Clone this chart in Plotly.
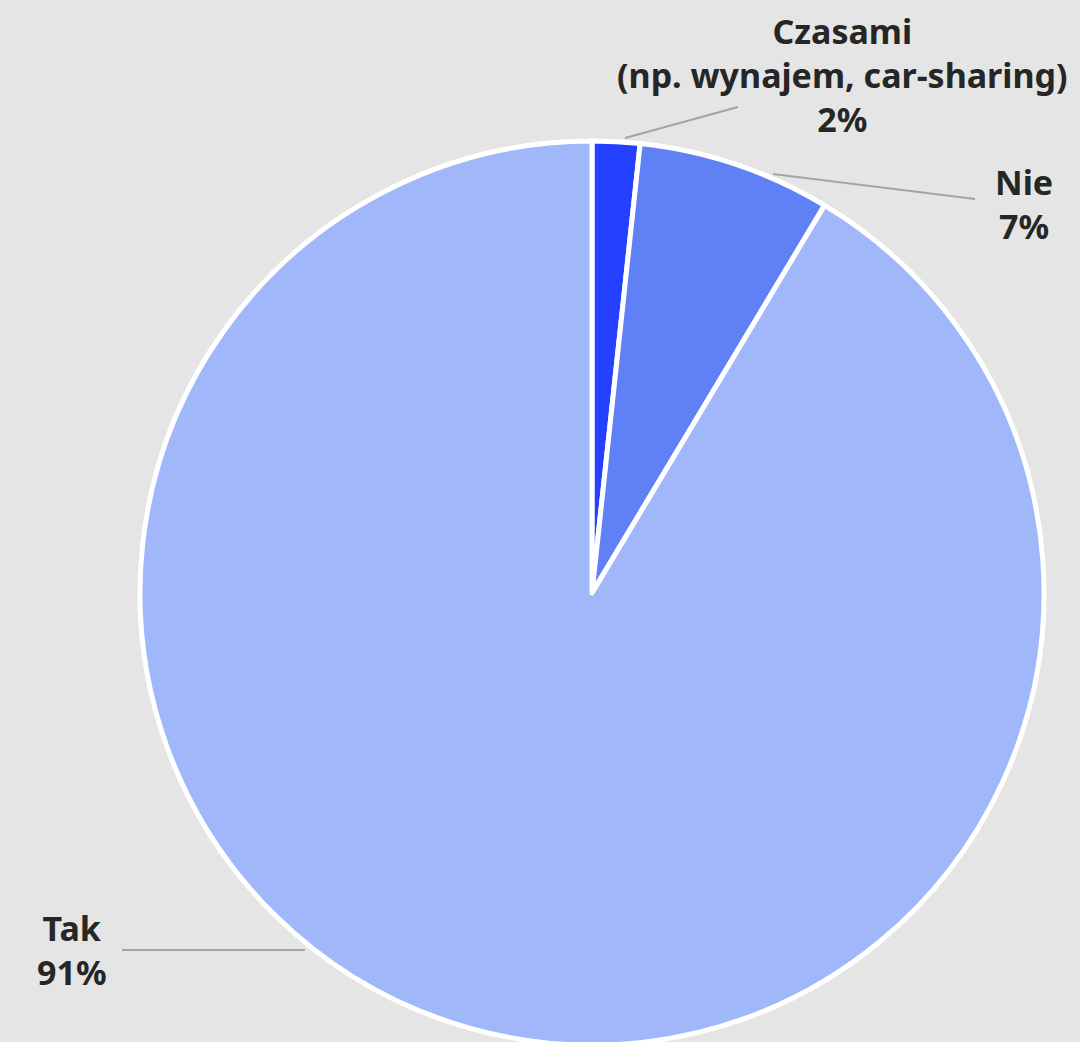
import plotly.graph_objects as go

# ---- data ----
categories = ["Czasami (np. wynajem, car-sharing)", "Nie", "Tak"]
label_lines = ["Czasami<br>(np. wynajem, car-sharing)", "Nie", "Tak"]
values = [1.7, 6.9, 91.4]
colors = ["#2540ff", "#6080f5", "#a0b8fa"]

W, H = 1080, 1046
BG = "#e5e5e5"
TEXT = "#262626"
LINE = "#a4a4a4"


def px(x):
    return x / W


def py(y):
    return 1 - y / H


total = sum(values)
pct_text = [f"{round(v / total * 100)}%" for v in values]

fig = go.Figure(
    go.Pie(
        labels=categories,
        values=values,
        sort=False,
        direction="clockwise",
        rotation=0,
        marker=dict(colors=colors, line=dict(color="white", width=5)),
        textinfo="none",
        hovertemplate="%{label}: %{percent}<extra></extra>",
        domain=dict(x=[px(140), px(1044)], y=[py(1045), py(141)]),
        showlegend=False,
    )
)

# label positions (pixel centres) and leader lines
label_pos = [(842, 75), (1024, 204), (72, 950)]
leaders = [((625, 138), (738, 107)), ((773, 174), (975, 199)), ((305, 950), (122, 950))]

for txt, pct, (lx, ly) in zip(label_lines, pct_text, label_pos):
    fig.add_annotation(
        x=px(lx), y=py(ly), xref="paper", yref="paper",
        text=f"<b>{txt}<br>{pct}</b>",
        showarrow=False, xanchor="center", yanchor="middle", align="center",
        font=dict(family="Noto Sans, Open Sans, sans-serif", size=34, color=TEXT),
    )

for (x0, y0), (x1, y1) in leaders:
    fig.add_shape(
        type="line", xref="paper", yref="paper",
        x0=px(x0), y0=py(y0), x1=px(x1), y1=py(y1),
        line=dict(color=LINE, width=2),
    )

fig.update_layout(
    width=W, height=H,
    margin=dict(l=0, r=0, t=0, b=0),
    paper_bgcolor=BG, plot_bgcolor=BG,
)

fig.write_html(
    "out.html",
    config={"displayModeBar": False},
    post_script="document.body.style.margin='0';document.body.style.overflow='hidden';document.body.style.background='#e5e5e5';",
)
